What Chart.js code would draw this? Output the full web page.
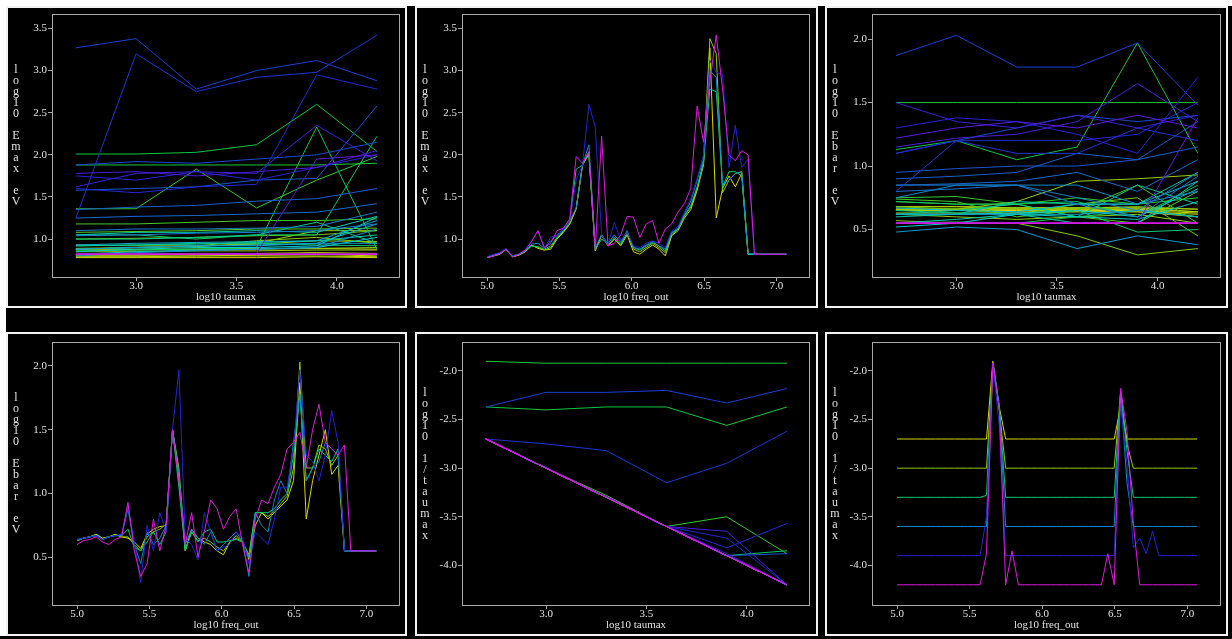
<!DOCTYPE html>
<html><head><meta charset="utf-8">
<script src="https://cdn.jsdelivr.net/npm/chart.js@4.4.1/dist/chart.umd.min.js"></script>
<style>
html,body{margin:0;padding:0;background:#000;width:1232px;height:639px;overflow:hidden;position:relative}
.strip{position:absolute;background:#fff}
.panel{position:absolute;box-sizing:border-box;border:2px solid #f2f2f2;background:#000}
.panel canvas{position:absolute;left:0;top:0}
</style></head><body>
<div class="strip" style="left:0;top:0;width:1232px;height:6px"></div>
<div class="strip" style="left:0;top:0;width:6px;height:636px"></div>
<div class="panel" style="left:6px;top:6px;width:401px;height:302px"><canvas id="c1" width="397" height="298"></canvas></div>
<div class="panel" style="left:415px;top:6px;width:403px;height:302px"><canvas id="c2" width="399" height="298"></canvas></div>
<div class="panel" style="left:825px;top:6px;width:403px;height:302px"><canvas id="c3" width="399" height="298"></canvas></div>
<div class="panel" style="left:6px;top:332px;width:401px;height:304px"><canvas id="c4" width="397" height="300"></canvas></div>
<div class="panel" style="left:415px;top:332px;width:403px;height:304px"><canvas id="c5" width="399" height="300"></canvas></div>
<div class="panel" style="left:825px;top:332px;width:403px;height:304px"><canvas id="c6" width="399" height="300"></canvas></div>
<script>
// ---------------- data ----------------
const taumax = [2.7, 3.0, 3.3, 3.6, 3.9, 4.2];
const logFreqOut = [5.000,5.044,5.088,5.132,5.176,5.220,5.264,5.308,5.352,5.396,
  5.440,5.484,5.528,5.572,5.616,5.660,5.704,5.748,5.792,5.836,
  5.880,5.924,5.968,6.012,6.056,6.100,6.144,6.188,6.232,6.276,
  6.320,6.364,6.408,6.452,6.496,6.540,6.584,6.628,6.672,6.716,
  6.760,6.804,6.848,6.892,6.936,6.980,7.024,7.068];

const tauTicks = [3.0, 3.5, 4.0];
const freqTicks = [5.0, 5.5, 6.0, 6.5, 7.0];
const emaxTicks = [1.0, 1.5, 2.0, 2.5, 3.0, 3.5];
const ebarTicks = [0.5, 1.0, 1.5, 2.0];
const invTauTicks = [-4.0, -3.5, -3.0, -2.5, -2.0];

// log10 Emax (eV), one array per taumax, indexed by freq_out
const emax_tau27 = [.78,.80,.82,.88,.79,.81,.85,.93,.89,.87,
  .88,1.00,1.08,1.18,1.36,1.88,2.01,.86,1.05,.92,
  1.00,.92,1.05,.85,.82,.88,.93,.88,.80,1.04,
  1.10,1.25,1.35,1.58,1.88,3.27,1.25,1.60,1.75,1.62,
  1.78,.82,.82,.82,.82,.82,.82,.82];
const emax_tau30 = [.78,.80,.82,.88,.79,.81,.85,.92,.90,.87,
  .90,1.01,1.09,1.18,1.36,1.88,2.01,.87,1.05,.93,
  1.00,.93,1.08,.88,.85,.90,.95,.90,.84,1.05,
  1.12,1.27,1.38,1.60,1.92,3.38,3.20,1.55,1.70,1.78,
  1.80,.82,.82,.82,.82,.82,.82,.82];
const emax_tau33 = [.78,.80,.83,.88,.80,.82,.86,.92,.91,.88,
  .92,1.02,1.10,1.20,1.83,1.88,2.03,.88,1.00,.95,
  1.02,.94,1.08,.90,.87,.92,.96,.92,.86,1.07,
  1.12,1.28,1.40,1.62,1.90,2.78,2.75,1.62,1.80,1.80,
  1.75,.82,.82,.82,.82,.82,.82,.82];
const emax_tau36 = [.78,.81,.83,.88,.80,.82,.86,.94,.95,.89,
  .98,1.04,1.12,1.22,1.37,1.88,2.12,.90,1.05,.95,
  1.05,.96,1.10,.90,.88,.93,.97,.92,.88,1.08,
  1.13,1.30,1.45,1.70,1.95,3.00,2.92,1.65,1.70,1.78,
  1.80,.83,.82,.82,.82,.82,.82,.82];
const emax_tau39 = [.79,.82,.84,.89,.80,.82,.87,.98,1.10,.89,
  1.02,1.05,1.12,1.22,1.70,1.88,2.60,2.33,1.05,.93,
  1.20,.98,1.08,.92,.90,.95,.98,.95,.90,1.10,
  1.15,1.32,1.48,1.72,2.00,3.12,2.98,2.95,1.85,2.35,
  1.85,1.95,.82,.82,.82,.82,.82,.82];
const emax_tau42 = [.78,.80,.83,.88,.79,.82,.87,.97,1.10,.90,
  .95,1.10,1.13,1.24,1.98,1.90,2.04,.88,2.22,.92,
  .95,1.05,1.27,1.26,1.02,1.18,1.22,.95,1.12,1.18,
  1.32,1.42,1.60,2.58,2.15,2.88,3.42,2.78,2.00,1.93,
  2.05,2.00,.82,.82,.82,.82,.82,.82];

// log10 Ebar (eV)
const ebar_tau27 = [.63,.65,.66,.68,.65,.66,.68,.66,.65,.62,
  .57,.68,.72,.74,.75,1.50,1.13,.55,.72,.65,
  .62,.60,.55,.52,.62,.67,.62,.48,.75,.85,
  .80,.85,.90,.95,1.10,1.87,.80,1.10,1.30,1.50,
  1.15,1.22,.55,.55,.55,.55,.55,.55];
const ebar_tau30 = [.63,.65,.66,.68,.65,.66,.68,.66,.66,.60,
  .55,.66,.70,.72,.76,1.50,1.20,.56,.70,.63,
  .65,.62,.58,.55,.62,.65,.62,.52,.85,.85,
  .82,.86,.92,.98,1.20,2.03,1.20,1.20,1.38,1.35,
  1.22,1.30,.55,.55,.55,.55,.55,.55];
const ebar_tau33 = [.63,.65,.66,.67,.64,.66,.67,.67,.72,.58,
  .55,.62,.70,.60,.70,1.50,1.05,.55,.70,.62,
  .70,.72,.62,.62,.63,.64,.62,.50,.85,.85,
  .85,.88,.95,1.00,1.30,1.78,1.10,1.20,1.35,1.30,
  1.25,1.35,.55,.55,.55,.55,.55,.55];
const ebar_tau36 = [.64,.65,.66,.67,.64,.66,.67,.67,.88,.60,
  .45,.70,.60,.65,.75,1.50,1.15,.60,.72,.65,
  .60,.70,.55,.60,.65,.70,.62,.35,.85,.75,
  .70,.95,1.10,1.00,1.40,1.78,1.10,1.20,1.25,1.40,
  1.35,1.30,.55,.55,.55,.55,.55,.55];
const ebar_tau39 = [.64,.65,.66,.67,.64,.66,.67,.68,.90,.62,
  .30,.75,.55,.85,.70,1.50,1.97,.65,.60,.48,
  .85,.70,.55,.58,.60,.70,.65,.45,.70,.65,
  .60,.80,1.05,1.05,1.35,1.97,1.30,1.25,1.10,1.30,
  1.65,1.40,.55,.55,.55,.55,.55,.55];
const ebar_tau42 = [.60,.63,.64,.66,.62,.60,.64,.66,.93,.55,
  .35,.45,.80,.55,.75,1.50,1.10,.60,.85,.50,
  .70,.95,.88,.72,.82,.88,.60,.38,.80,.95,
  .92,1.05,1.15,1.35,1.40,1.48,1.20,1.50,1.70,1.40,
  1.35,1.30,1.38,.55,.55,.55,.55,.55];

// log10 1/taumax
const inv_tau27 = [-2.7,-2.7,-2.7,-2.7,-2.7,-2.7,-2.7,-2.7,-2.7,-2.7,
  -2.7,-2.7,-2.7,-2.7,-2.7,-1.9,-2.37,-2.7,-2.7,-2.7,
  -2.7,-2.7,-2.7,-2.7,-2.7,-2.7,-2.7,-2.7,-2.7,-2.7,
  -2.7,-2.7,-2.7,-2.7,-2.7,-2.37,-2.7,-2.7,-2.7,-2.7,
  -2.7,-2.7,-2.7,-2.7,-2.7,-2.7,-2.7,-2.7];
const inv_tau30 = [-3.0,-3.0,-3.0,-3.0,-3.0,-3.0,-3.0,-3.0,-3.0,-3.0,
  -3.0,-3.0,-3.0,-3.0,-3.0,-1.92,-2.4,-3.0,-3.0,-3.0,
  -3.0,-3.0,-3.0,-3.0,-3.0,-3.0,-3.0,-3.0,-3.0,-3.0,
  -3.0,-3.0,-3.0,-3.0,-3.0,-2.22,-2.75,-3.0,-3.0,-3.0,
  -3.0,-3.0,-3.0,-3.0,-3.0,-3.0,-3.0,-3.0];
const inv_tau33 = [-3.3,-3.3,-3.3,-3.3,-3.3,-3.3,-3.3,-3.3,-3.3,-3.3,
  -3.3,-3.3,-3.3,-3.3,-3.28,-1.92,-2.37,-3.3,-3.3,-3.3,
  -3.3,-3.3,-3.3,-3.3,-3.3,-3.3,-3.3,-3.3,-3.3,-3.3,
  -3.3,-3.3,-3.3,-3.3,-3.3,-2.22,-2.82,-3.3,-3.3,-3.3,
  -3.3,-3.3,-3.3,-3.3,-3.3,-3.3,-3.3,-3.3];
const inv_tau36 = [-3.6,-3.6,-3.6,-3.6,-3.6,-3.6,-3.6,-3.6,-3.6,-3.6,
  -3.6,-3.6,-3.6,-3.6,-3.6,-1.92,-2.37,-3.6,-3.6,-3.6,
  -3.6,-3.6,-3.6,-3.6,-3.6,-3.6,-3.6,-3.6,-3.6,-3.6,
  -3.6,-3.6,-3.6,-3.6,-3.6,-2.2,-3.15,-3.6,-3.6,-3.6,
  -3.6,-3.6,-3.6,-3.6,-3.6,-3.6,-3.6,-3.6];
const inv_tau39 = [-3.9,-3.9,-3.9,-3.9,-3.9,-3.9,-3.9,-3.9,-3.9,-3.9,
  -3.9,-3.9,-3.9,-3.9,-3.5,-1.92,-2.56,-3.9,-3.9,-3.9,
  -3.9,-3.9,-3.9,-3.9,-3.9,-3.9,-3.9,-3.9,-3.9,-3.9,
  -3.9,-3.9,-3.9,-3.9,-3.9,-2.33,-2.95,-3.82,-3.72,-3.88,
  -3.65,-3.9,-3.9,-3.9,-3.9,-3.9,-3.9,-3.9];
const inv_tau42 = [-4.2,-4.2,-4.2,-4.2,-4.2,-4.2,-4.2,-4.2,-4.2,-4.2,
  -4.2,-4.2,-4.2,-4.2,-3.88,-1.92,-2.37,-4.2,-3.85,-4.2,
  -4.2,-4.2,-4.2,-4.2,-4.2,-4.2,-4.2,-4.2,-4.2,-4.2,
  -4.2,-4.2,-4.2,-3.88,-4.2,-2.18,-2.62,-3.57,-4.2,-4.2,
  -4.2,-4.2,-4.2,-4.2,-4.2,-4.2,-4.2,-4.2];

const emaxByTau = [emax_tau27, emax_tau30, emax_tau33, emax_tau36, emax_tau39, emax_tau42];
const ebarByTau = [ebar_tau27, ebar_tau30, ebar_tau33, ebar_tau36, ebar_tau39, ebar_tau42];
const invByTau = [inv_tau27, inv_tau30, inv_tau33, inv_tau36, inv_tau39, inv_tau42];

// ---------------- styling ----------------
const FONT = '"Liberation Serif","DejaVu Serif",serif';
Chart.defaults.font.family = FONT;
const TXT = '#e2e2e2', FRAME = '#a8a8a8';
const STOPS = [[0,[215,215,0]],[0.2,[140,205,0]],[0.35,[0,200,70]],[0.5,[0,205,210]],
  [0.62,[20,125,205]],[0.8,[35,35,215]],[0.9,[110,25,220]],[1,[225,25,225]]];
function cmap(t){
  for(let i=1;i<STOPS.length;i++){
    if(t<=STOPS[i][0]+1e-9){
      const [t0,c0]=STOPS[i-1],[t1,c1]=STOPS[i];
      const f=(t-t0)/(t1-t0);
      const c=c0.map((v,j)=>Math.round(v+(c1[j]-v)*f));
      return `rgb(${c[0]},${c[1]},${c[2]})`;
    }
  }
  return 'rgb(225,25,225)';
}

function vsFreq(byTau){
  return byTau.map((arr,i)=>({
    data: logFreqOut.map((f,k)=>({x:f,y:arr[k]})),
    borderColor: cmap(i/(byTau.length-1))
  })).reverse();
}
function vsTau(byTau){
  return logFreqOut.map((f,k)=>({
    data: taumax.map((t,i)=>({x:t,y:byTau[i][k]})),
    borderColor: cmap(k/(logFreqOut.length-1))
  })).reverse();
}

function makePanel(cfg){
  const {id,W,H,ca,xr,yr,xTicks,yTicks,xTitle,yTitle,datasets}=cfg;
  const decor={id:'decor',afterDraw(chart){
    const c=chart.ctx,a=chart.chartArea;
    c.save();
    c.strokeStyle=FRAME;c.lineWidth=1;
    c.strokeRect(Math.round(a.left)-0.5,Math.round(a.top)-0.5,Math.round(a.right-a.left)+1,Math.round(a.bottom-a.top)+1);
    c.fillStyle=TXT;c.textAlign='center';c.textBaseline='middle';
    c.font='11px '+FONT;
    c.fillText(xTitle,(a.left+a.right)/2,a.bottom+20);
    c.font='12px '+FONT;
    const chars=Array.from(yTitle);
    const step=11;
    const y0=(a.top+a.bottom)/2-10-(chars.length-1)*step/2;
    chars.forEach((ch,i)=>{if(ch!==' ')c.fillText(ch,8,y0+i*step);});
    c.restore();
  }};
  new Chart(document.getElementById(id),{
    type:'line',
    data:{datasets},
    options:{
      responsive:false,animation:false,devicePixelRatio:1,
      layout:{padding:{left:0,top:ca[1],right:W-ca[2],bottom:0}},
      plugins:{legend:{display:false},tooltip:{enabled:false}},
      elements:{point:{radius:0},line:{borderWidth:1,tension:0,fill:false}},
      scales:{
        x:{type:'linear',min:xr[0],max:xr[1],
          afterBuildTicks:s=>{s.ticks=xTicks.map(v=>({value:v}));},
          afterFit:s=>{s.height=H-ca[3];},
          ticks:{color:TXT,font:{size:11,lineHeight:1},padding:0,maxRotation:0,minRotation:0,autoSkip:false,
            callback:v=>Number(v).toFixed(1)},
          grid:{drawOnChartArea:false,drawTicks:true,tickLength:4,color:FRAME},
          border:{display:false}},
        y:{type:'linear',min:yr[0],max:yr[1],
          afterBuildTicks:s=>{s.ticks=yTicks.map(v=>({value:v}));},
          afterFit:s=>{s.width=ca[0];},
          ticks:{color:TXT,font:{size:11,lineHeight:1},padding:1,autoSkip:false,
            callback:v=>Number(v).toFixed(1)},
          grid:{drawOnChartArea:false,drawTicks:true,tickLength:5,color:FRAME},
          border:{display:false}}
      }
    },
    plugins:[decor]
  });
}

const TAU_R=[2.586,4.31], FREQ_R=[4.834,7.225];
makePanel({id:'c1',W:397,H:298,ca:[45,7,391,269],xr:TAU_R,yr:[0.55,3.66],xTicks:tauTicks,yTicks:emaxTicks,
  xTitle:'log10 taumax',yTitle:'log10 Emax eV',datasets:vsTau(emaxByTau)});
makePanel({id:'c2',W:399,H:298,ca:[46,7,392,269],xr:FREQ_R,yr:[0.55,3.66],xTicks:freqTicks,yTicks:emaxTicks,
  xTitle:'log10 freq_out',yTitle:'log10 Emax eV',datasets:vsFreq(emaxByTau)});
makePanel({id:'c3',W:399,H:298,ca:[46,7,393,269],xr:TAU_R,yr:[0.126,2.19],xTicks:tauTicks,yTicks:ebarTicks,
  xTitle:'log10 taumax',yTitle:'log10 Ebar eV',datasets:vsTau(ebarByTau)});
makePanel({id:'c4',W:397,H:300,ca:[45,9,391,271],xr:FREQ_R,yr:[0.126,2.18],xTicks:freqTicks,yTicks:ebarTicks,
  xTitle:'log10 freq_out',yTitle:'log10 Ebar eV',datasets:vsFreq(ebarByTau)});
makePanel({id:'c5',W:399,H:300,ca:[46,9,392,271],xr:TAU_R,yr:[-4.408,-1.712],xTicks:tauTicks,yTicks:invTauTicks,
  xTitle:'log10 taumax',yTitle:'log10 1/taumax',datasets:vsTau(invByTau)});
makePanel({id:'c6',W:399,H:300,ca:[46,9,393,271],xr:FREQ_R,yr:[-4.408,-1.712],xTicks:freqTicks,yTicks:invTauTicks,
  xTitle:'log10 freq_out',yTitle:'log10 1/taumax',datasets:vsFreq(invByTau)});
</script>
</body></html>
